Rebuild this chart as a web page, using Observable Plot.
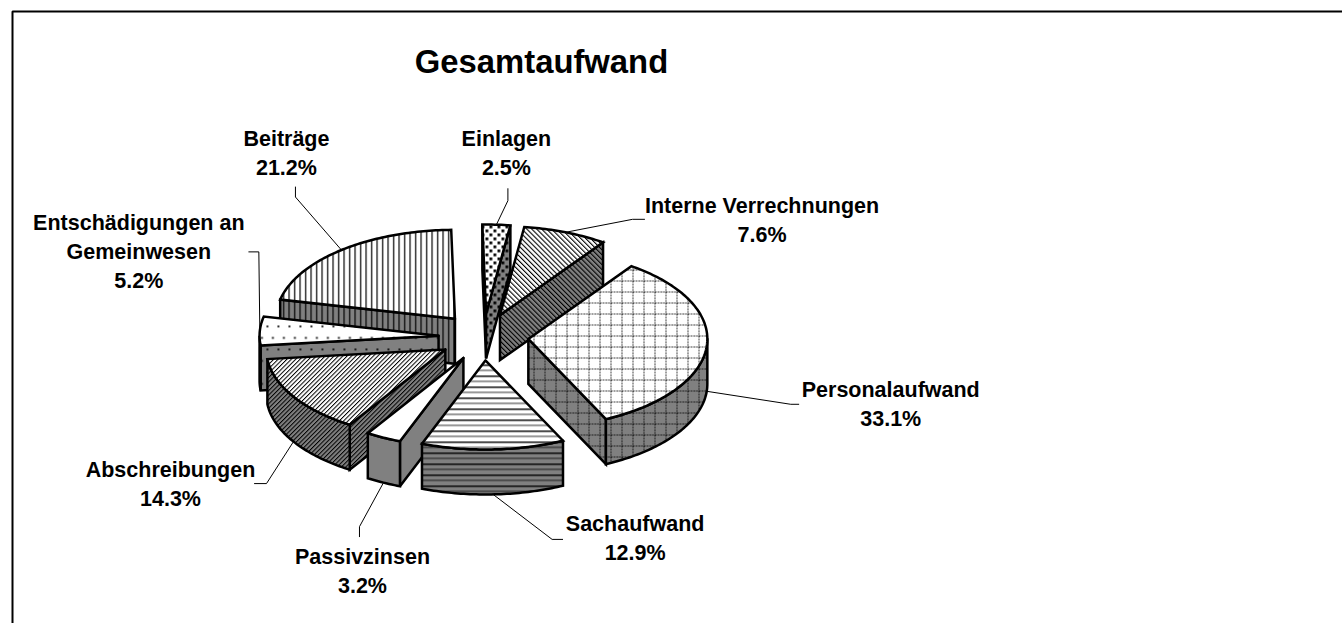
<!DOCTYPE html>
<html>
<head>
<meta charset="utf-8">
<script src="https://cdn.jsdelivr.net/npm/d3@7"></script>
<script src="https://cdn.jsdelivr.net/npm/@observablehq/plot@0.6"></script>
<style>html,body{margin:0;padding:0;background:#fff}svg{display:block}</style>
</head>
<body>
<div id="chart"></div>
<script>
// Data, clockwise from the top of the pie
const categories = ["Einlagen", "Interne Verrechnungen", "Personalaufwand", "Sachaufwand", "Passivzinsen", "Abschreibungen", "Entschädigungen an\nGemeinwesen", "Beiträge"];
const shares = [2.5, 7.6, 33.1, 12.9, 3.2, 14.3, 5.2, 21.2];
const chartTitle = "Gesamtaufwand";

// Layout: the pie model and the callouts (pixels, relative to each slice's rim anchor)
const W = 1342, H = 623;
const pie = {cx: 483, cy: 336.5, rx: 179, ry: 89, explodeX: 45, explodeY: 23.5, depth: 45, startAngle: -1.2};
const patterns = ["confetti", "hatchBack", "grid", "horizontal", null, "hatchFwd", "sparseDots", "vertical"];
const callouts = [
  {bend: [11.5, -24], end: [11.5, -36], label: [10, -73]},
  {bend: [67, -13], end: [79, -13], label: [196.5, -14.5]},
  {bend: [84, 13], end: [92, 13], label: [184, 11]},
  {bend: [59, 45], end: [69.5, 45], label: [142, 42]},
  {bend: [-24, 44], end: [-24, 54], label: [-21, 87]},
  {bend: [-27, 42], end: [-39, 42], label: [-123, 41]},
  {bend: [-1, -79], end: [-11, -79], label: [-121, -81]},
  {bend: [-46, -53], end: [-46, -63], label: [-55, -99]}
];
const paintOrder = [7, 0, 1, 6, 2, 5, 4, 3];

// Pie units: one x unit = rx, one y unit = ry (y grows upward)
const dz = pie.depth / pie.ry;
const ex = pie.explodeX / pie.rx, ey = pie.explodeY / pie.ry;
const rad = a => a * Math.PI / 180;
const total = d3.sum(shares);
let acc = pie.startAngle;
const slices = shares.map((v, i) => {
  const a0 = acc, a1 = acc + v / total * 360; acc = a1;
  const mid = (a0 + a1) / 2;
  return {i, v, a0, a1, mid, ax: ex * Math.sin(rad(mid)), ay: ey * Math.cos(rad(mid))};
});
const rim = (s, a, drop = 0) => ({x: s.ax + Math.sin(rad(a)), y: s.ay + Math.cos(rad(a)) - drop});
const apex = (s, drop = 0) => ({x: s.ax, y: s.ay - drop});
const arc = (s, a0, a1, drop = 0) => {
  const n = Math.max(2, Math.ceil(Math.abs(a1 - a0)));
  return d3.range(n + 1).map(k => rim(s, a0 + (a1 - a0) * k / n, drop));
};
const close = pts => [...pts, pts[0]];
const topFace = s => close([apex(s), ...arc(s, s.a0, s.a1)]);
const radialWall = (s, a) => close([apex(s), rim(s, a), rim(s, a, dz), apex(s, dz)]);
const outerWall = (s, a0, a1) => close([...arc(s, a0, a1), ...arc(s, a1, a0, dz)]);

function wallsOf(s) {
  const walls = [];
  if (Math.sin(rad(s.a0)) < 0) walls.push(radialWall(s, s.a0));
  if (Math.sin(rad(s.a1)) > 0) walls.push(radialWall(s, s.a1));
  const lo = Math.max(s.a0, 90), hi = Math.min(s.a1, 270);
  if (lo < hi) walls.push(outerWall(s, lo, hi));
  return walls;
}

const faceMarks = (pts, base, pattern) => {
  const common = {x: "x", y: "y", curve: "linear"};
  const out = [Plot.line(pts, {...common, fill: base, stroke: "none"})];
  if (pattern) out.push(Plot.line(pts, {...common, fill: `url(#${pattern})`, stroke: "none"}));
  out.push(Plot.line(pts, {...common, fill: "none", stroke: "#000", strokeWidth: 2.5, strokeLinejoin: "miter", strokeMiterlimit: 3}));
  return out;
};

const sliceMarks = paintOrder.flatMap(i => {
  const s = slices[i];
  return [
    ...wallsOf(s).flatMap(w => faceMarks(w, "#808080", patterns[i])),
    ...faceMarks(topFace(s), "#fff", patterns[i])
  ];
});

// Callouts
const px = d => d / pie.rx, py = d => -d / pie.ry;
const anchorOf = s => rim(s, s.mid, Math.cos(rad(s.mid)) < 0 ? dz : 0);
const leaders = slices.flatMap(s => {
  const a = anchorOf(s), c = callouts[s.i];
  return [a, {x: a.x + px(c.bend[0]), y: a.y + py(c.bend[1])}, {x: a.x + px(c.end[0]), y: a.y + py(c.end[1])}].map(p => ({...p, k: s.i}));
});
const labels = slices.map(s => {
  const a = anchorOf(s), c = callouts[s.i];
  return {x: a.x + px(c.label[0]), y: a.y + py(c.label[1]), text: `${categories[s.i]}\n${s.v.toFixed(1)}%`};
});

// Stage helpers: pixel position to pie units
const ux = p => (p - pie.cx) / pie.rx, uy = p => (pie.cy - p) / pie.ry;
const font = {fontFamily: "Liberation Sans, Arial, sans-serif", fontWeight: "bold", fill: "#000"};

const chart = Plot.plot({
  width: W, height: H,
  margin: 0,
  style: {background: "#fff", overflow: "visible"},
  x: {domain: [ux(0), ux(W)], range: [0, W], axis: null},
  y: {domain: [uy(0), uy(H)], range: [0, H], axis: null},
  marks: [
    Plot.line([{x: ux(W), y: uy(11)}, {x: ux(12), y: uy(11)}, {x: ux(12), y: uy(H)}], {x: "x", y: "y", stroke: "#000", strokeWidth: 2, strokeLinejoin: "miter"}),
    ...sliceMarks,
    Plot.line(leaders, {x: "x", y: "y", z: "k", stroke: "#000", strokeWidth: 1, curve: "linear"}),
    Plot.text(labels, {x: "x", y: "y", text: "text", fontSize: 21.5, lineHeight: 1.35, textAnchor: "middle", ...font}),
    Plot.text([chartTitle], {x: () => ux(541), y: () => uy(62), text: d => d, fontSize: 32.8, textAnchor: "middle", ...font})
  ]
});

// Fill patterns referenced by the slice faces
const dots = (r, list) => list.map(([x, y]) => `<rect x="${x}" y="${y}" width="${r}" height="${r}" fill="#000"/>`).join("");
d3.select(chart).insert("defs", ":first-child").html(`
  <pattern id="vertical" patternUnits="userSpaceOnUse" width="5.5" height="5.5"><rect x="2" y="0" width="1.2" height="5.5" fill="#000"/></pattern>
  <pattern id="horizontal" patternUnits="userSpaceOnUse" width="11" height="11"><rect x="0" y="1" width="11" height="1.4" fill="#000"/><rect x="0" y="6.5" width="11" height="0.8" fill="#000"/></pattern>
  <pattern id="grid" patternUnits="userSpaceOnUse" width="11" height="11">
    <path d="M0 5.5H11M5.5 0V11" stroke="#000" stroke-width="1" stroke-dasharray="1.5 1.25" fill="none"/>
  </pattern>
  <pattern id="hatchFwd" patternUnits="userSpaceOnUse" width="3.1" height="5" patternTransform="rotate(45)"><rect x="0" y="0" width="1" height="5" fill="#000"/></pattern>
  <pattern id="hatchBack" patternUnits="userSpaceOnUse" width="3.5" height="5" patternTransform="rotate(-45)"><rect x="0" y="0" width="1.1" height="5" fill="#000"/></pattern>
  <pattern id="sparseDots" patternUnits="userSpaceOnUse" width="11" height="23">${dots(1.8, [[2, 3], [7.5, 14.5]])}</pattern>
  <pattern id="confetti" patternUnits="userSpaceOnUse" width="8" height="8">${dots(2.8, [[1, 1], [5, 5]])}</pattern>
`);
document.getElementById("chart").append(chart);
</script>
</body>
</html>
